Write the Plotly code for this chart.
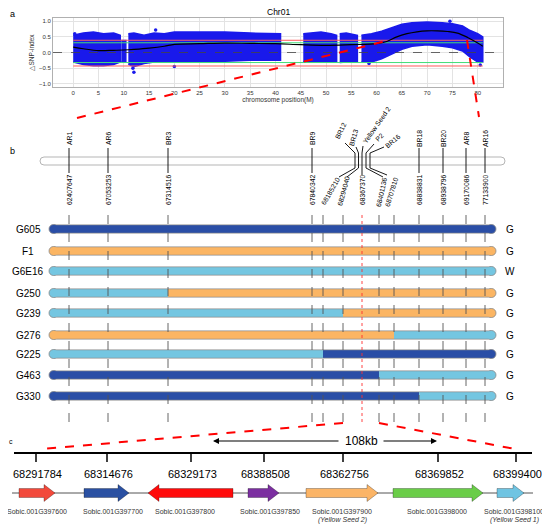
import plotly.graph_objects as go

FONT = "Arial, Liberation Sans, sans-serif"

# ---------------- panel a : delta SNP-index along Chr01 ----------------
# the SNP cloud, read as upper / lower envelope per block of markers
cloud_pos = [
    [0, 2, 4, 6, 8, 9.3],
    [9.5, 10.4],
    [10.9, 12, 14, 16, 18, 20, 25, 30, 35, 41],
    [45.5, 47, 49, 51, 52.1],
    [52.7, 54, 56.2],
    [57, 59, 61, 63, 65, 67, 70, 73, 75, 77, 78.5, 80, 81],
]
cloud_top = [
    [0.55, 0.62, 0.65, 0.6, 0.62, 0.55],
    [0.38, 0.38],
    [0.6, 0.62, 0.55, 0.62, 0.6, 0.65, 0.65, 0.65, 0.62, 0.6],
    [0.6, 0.62, 0.65, 0.6, 0.55],
    [0.6, 0.62, 0.55],
    [0.55, 0.6, 0.68, 0.8, 0.9, 0.95, 0.97, 0.95, 0.92, 0.85, 0.7, 0.6, 0.5],
]
cloud_bot = [
    [-0.3, -0.38, -0.42, -0.42, -0.38, -0.3],
    [-0.3, -0.3],
    [-0.38, -0.45, -0.35, -0.3, -0.28, -0.3, -0.28, -0.28, -0.25, -0.25],
    [-0.3, -0.3, -0.28, -0.3, -0.3],
    [-0.32, -0.3, -0.3],
    [-0.3, -0.3, -0.2, -0.05, 0.1, 0.2, 0.25, 0.2, 0.15, 0.05, -0.15, -0.3, -0.3],
]
outlier_x = [12.0, 11.8, 16.3, 0.3, 20.0, 58.5, 80.5, 74.5]
outlier_y = [-0.63, -0.5, 0.72, 0.6, -0.45, -0.35, -0.4, 1.0]

fit_x = [0, 2, 5, 8, 10, 12, 15, 18, 20, 25, 30, 35, 40, 45, 50, 55, 60,
         62, 64, 66, 68, 70, 72, 74, 76, 78, 80, 81]
fit_y = [0.17, 0.12, 0.06, 0.07, 0.08, 0.1, 0.14, 0.2, 0.26, 0.28, 0.3, 0.29,
         0.28, 0.25, 0.23, 0.25, 0.28, 0.35, 0.5, 0.6, 0.66, 0.69, 0.69, 0.67,
         0.62, 0.48, 0.3, 0.2]

thr_99 = 0.39
thr_95 = 0.31
thr_95_low = -0.32
thr_99_low = -0.43
chr_end = 81

# ---------------- panel b : markers and recombinants ----------------
marker_names = ["AR1", "AR6", "BR3", "BR9", "BR12", "BR13", "Yellow Seed 2",
                "P2", "BR16", "BR18", "BR20", "AR8", "AR16"]
marker_pos = ["62407647", "67053253", "67314516", "67840342", "68185210",
              "68294040", "68367370", "68401136", "68707810", "68838831",
              "68938796", "69170086", "77133900"]

lines_names = ["G605", "F1", "G6E16", "G250", "G239", "G276", "G225", "G463", "G330"]
phenotype = ["G", "G", "W", "G", "G", "G", "G", "G", "G"]
geno_left = ["B", "H", "A", "A", "A", "H", "A", "B", "B"]
geno_switch = [None, None, None, "BR3", "BR13", "BR16", "BR12", "P2", "BR18"]
geno_right = ["B", "H", "A", "H", "H", "A", "B", "A", "A"]

# ---------------- panel c : candidate genes ----------------
tick_labels = ["68291784", "68314676", "68329173", "68388508",
               "68362756", "68369852", "68399400"]
gene_names = ["Sobic.001G397600", "Sobic.001G397700", "Sobic.001G397800",
              "Sobic.001G397850", "Sobic.001G397900", "Sobic.001G398000",
              "Sobic.001G398100"]
gene_alias = ["", "", "", "", "(Yellow Seed 2)", "", "(Yellow Seed 1)"]
gene_strand = [1, 1, -1, 1, 1, 1, 1]

# layout of the schematic (screen-pixel units of the canvas)
marker_x = [69, 108, 168, 312, 323, 343, 362, 379, 394, 419, 443, 466, 485]
row_y = [229, 251, 271, 293, 313, 335, 354, 375, 396]
tick_x = [36, 107, 191, 264, 343, 438, 516]
gene_x0 = [19, 84, 148, 248, 306, 393, 497]
gene_x1 = [55, 129, 233, 279, 378, 483, 524]
gene_label_x = [37, 113, 185, 270, 342, 437, 514]
gene_col = ["#f2493b", "#2a50a2", "#ff0a0a", "#7b2ea0", "#fbb466", "#6acd48", "#6fc4e2"]
geno_col = {"B": "#2a4ea6", "H": "#fbb563", "A": "#74c6e1"}

# the page body adds an 8px offset, the canvas axes compensate for it
OFF = 8
W, H = 550, 532

fig = go.Figure()

# panel a traces
for px, pt, pb in zip(cloud_pos, cloud_top, cloud_bot):
    fig.add_trace(go.Scatter(x=px + px[::-1], y=pt + pb[::-1], fill="toself",
                             mode="lines", line=dict(color="rgb(25,25,235)", width=1.5),
                             fillcolor="rgb(25,25,235)", hoverinfo="skip", showlegend=False))
fig.add_trace(go.Scatter(x=outlier_x, y=outlier_y, mode="markers",
                         marker=dict(color="rgb(25,25,235)", size=3.5), showlegend=False))
for val, col in [(thr_99, "#ff5a5a"), (thr_95, "#44dd77"),
                 (thr_95_low, "#44dd77"), (thr_99_low, "#ff5a5a")]:
    fig.add_trace(go.Scatter(x=[0, chr_end], y=[val, val], mode="lines",
                             line=dict(color=col, width=1), showlegend=False))
fig.add_trace(go.Scatter(x=[-4, 85], y=[0, 0], mode="lines",
                         line=dict(color="#444", width=0.8, dash="dash"), showlegend=False))
fig.add_trace(go.Scatter(x=fit_x, y=fit_y, mode="lines", line=dict(color="black", width=1.2),
                         line_shape="spline", showlegend=False))

ann = []


def txt(x, y, s, size, angle=0, color="black", anchor="center", italic=False):
    ann.append(dict(x=x, y=y, xref="x2", yref="y2", text=("<i>%s</i>" % s) if italic else s,
                    showarrow=False, textangle=angle, xanchor=anchor, yanchor="middle",
                    font=dict(family=FONT, size=size, color=color)))


def seg(xs, ys, color="black", width=1, dash=None):
    fig.add_trace(go.Scatter(x=xs, y=ys, xaxis="x2", yaxis="y2", mode="lines",
                             line=dict(color=color, width=width, dash=dash),
                             hoverinfo="skip", showlegend=False))


txt(12, 14, "a", 9)
txt(278, 12, "Chr01", 8.5)
txt(12, 151, "b", 9)
txt(11, 441, "c", 7)

# marker ticks on the chromosome; the clustered ones fan out
cluster = {
    "BR12": dict(cx=355, top=(340, 131, -65), t0=(345, 143), bot=(330, 191, -60), b1=(339, 177)),
    "BR13": dict(cx=358.5, top=(353, 138, -75), t0=(356, 147), bot=(343, 191, -75), b1=(347, 177)),
    "Yellow Seed 2": dict(cx=362, top=(376, 125, -55), t0=(363, 146), bot=(362, 190, -90), b1=(362, 175)),
    "P2": dict(cx=366, top=(379, 137, -45), t0=(374, 144), bot=(381, 192, -78), b1=(383, 177)),
    "BR16": dict(cx=370, top=(392, 141, -40), t0=(384, 147), bot=(391, 192, -73), b1=(387, 175)),
}
for name, pos, mx in zip(marker_names, marker_pos, marker_x):
    if name in cluster:
        c = cluster[name]
        seg([c["t0"][0], c["cx"], c["cx"], c["b1"][0]],
            [c["t0"][1], 153, 168, c["b1"][1]], width=0.9)
        txt(c["top"][0], c["top"][1], name, 6.8, c["top"][2])
        txt(c["bot"][0], c["bot"][1], pos, 6.8, c["bot"][2])
    else:
        seg([mx, mx], [148, 173], width=0.9)
        txt(mx, 139, name, 6.8, -90)
        txt(mx, 190, pos, 6.8, -90)

# genotype bars (rounded ends come from end markers)
bar_x0, bar_x1 = 53.5, 491.5
for name, ph, yl, gl, sw, gr in zip(lines_names, phenotype, row_y, geno_left, geno_switch, geno_right):
    parts = [(bar_x0, bar_x1, gl)] if sw is None else \
        [(bar_x0, marker_x[marker_names.index(sw)], gl), (marker_x[marker_names.index(sw)], bar_x1, gr)]
    seg([bar_x0, bar_x1], [yl, yl], color="#8a8a8a", width=9)
    fig.add_trace(go.Scatter(x=[bar_x0, bar_x1], y=[yl, yl], xaxis="x2", yaxis="y2", mode="markers",
                             marker=dict(size=9, color=[geno_col[parts[0][2]], geno_col[parts[-1][2]]],
                                         line=dict(color="#8a8a8a", width=0.8)),
                             hoverinfo="skip", showlegend=False))
    for a, b, g in parts:
        seg([a, b], [yl, yl], color=geno_col[g], width=7.5)
    txt(28, yl, name, 10)
    txt(510, yl, ph, 10)

for name, mx in zip(marker_names, marker_x):
    if name == "Yellow Seed 2":
        seg([mx, mx], [215, 424], color="#ff3030", width=0.9, dash="dot")
    else:
        seg([mx, mx], [215, 424], color="#555", width=0.9, dash="dash")

# panel c : scale line with ticks
seg([14, 532], [453, 453], width=2)
for tx, tl in zip(tick_x, tick_labels):
    seg([tx, tx], [453, 462], width=1.5)
    txt(tx + 1, 474, tl, 11)

ann.append(dict(x=213, y=441, ax=340, ay=441, xref="x2", yref="y2", axref="x2", ayref="y2",
                text="", showarrow=True, arrowhead=2, arrowsize=1, arrowwidth=1.2, arrowcolor="black"))
ann.append(dict(x=437, y=441, ax=382, ay=441, xref="x2", yref="y2", axref="x2", ayref="y2",
                text="", showarrow=True, arrowhead=2, arrowsize=1, arrowwidth=1.2, arrowcolor="black"))
txt(361, 441, "108kb", 12)

# gene arrows
gy, bh, hh, hl = 493, 4.5, 8.5, 11
seg([12, 533], [gy, gy], color="#555", width=1)
for x0, x1, st, col, gn, al, lx in zip(gene_x0, gene_x1, gene_strand, gene_col,
                                       gene_names, gene_alias, gene_label_x):
    if st > 0:
        hx = x1 - hl
        xs = [x0, hx, hx, x1, hx, hx, x0, x0]
    else:
        hx = x0 + hl
        xs = [x1, hx, hx, x0, hx, hx, x1, x1]
    ys = [gy - bh, gy - bh, gy - hh, gy, gy + hh, gy + bh, gy + bh, gy - bh]
    fig.add_trace(go.Scatter(x=xs, y=ys, xaxis="x2", yaxis="y2", mode="lines", fill="toself",
                             fillcolor=col, line=dict(color="rgba(0,0,0,0.35)", width=0.8),
                             hoverinfo="skip", showlegend=False))
    txt(lx, 511, gn, 7, color="#333")
    if al:
        txt(lx, 520, al, 7, color="#333", italic=True)

shapes = [
    # chromosome body
    dict(type="path", xref="x2", yref="y2", layer="below",
         path="M 44 157 L 501 157 Q 505 157 505 161 Q 505 165 501 165 L 44 165 "
              "Q 40 165 40 161 Q 40 157 44 157 Z",
         line=dict(color="#b5b5b5", width=1), fillcolor="white"),
]
for x0, y0, x1, y1 in [(77, 118, 390, 40), (467, 40, 479, 117),
                       (343, 423, 42, 449), (379, 423, 515, 449)]:
    shapes.append(dict(type="line", xref="x2", yref="y2", x0=x0, y0=y0, x1=x1, y1=y1,
                       line=dict(color="red", width=2, dash="dash"), layer="above"))


def dom_x(a, b):
    return [(a - OFF) / W, (b - OFF) / W]


def dom_y(top, bottom):
    return [1 - (bottom - OFF) / H, 1 - (top - OFF) / H]


fig.update_layout(
    width=W, height=H, margin=dict(l=0, r=0, t=0, b=0),
    paper_bgcolor="white", plot_bgcolor="rgba(0,0,0,0)", showlegend=False,
    font=dict(family=FONT),
    xaxis=dict(domain=dom_x(53, 503), range=[-4, 85], tickvals=list(range(0, 81, 5)),
               tickfont=dict(size=6, color="#333"), gridcolor="#e3e3e3", zeroline=False,
               showline=True, mirror=True, linecolor="#b0b0b0", linewidth=1, ticks="",
               title=dict(text="chromosome position(M)", font=dict(size=6.5, color="#333"), standoff=1)),
    yaxis=dict(domain=dom_y(18, 87), range=[-1.1, 1.1],
               tickvals=[-1, -0.5, 0, 0.5, 1], tickformat=".1f",
               tickfont=dict(size=6, color="#333"), gridcolor="#e3e3e3", zeroline=False,
               showline=True, mirror=True, linecolor="#b0b0b0", linewidth=1, ticks="",
               title=dict(text="△SNP-index", font=dict(size=6.5, color="#333"), standoff=3)),
    xaxis2=dict(domain=[0, 1], range=[OFF, OFF + W], visible=False, anchor="y2", fixedrange=True),
    yaxis2=dict(domain=[0, 1], range=[OFF + H, OFF], visible=False, anchor="x2", fixedrange=True),
    annotations=ann, shapes=shapes,
)

fig.write_html("out.html")
